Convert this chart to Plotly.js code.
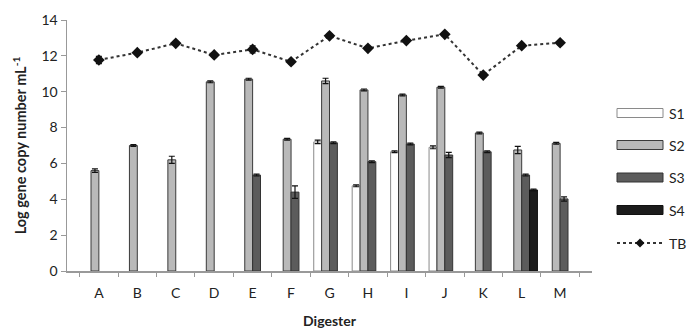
<!DOCTYPE html>
<html>
<head>
<meta charset="utf-8">
<script src="https://cdn.plot.ly/plotly-3.0.1.min.js"></script>
<style>html,body{margin:0;padding:0;background:#fff;}#chart{width:687px;height:329px;}</style>
</head>
<body>
<div id="chart"></div>
<script>
const digesters = ["A","B","C","D","E","F","G","H","I","J","K","L","M"];
const s1 = [null,null,null,null,null,null,7.2,4.75,6.65,6.9,null,null,null];
const s1Err = [0,0,0,0,0,0,0.1,0.05,0.05,0.08,0,0,0];
const s2 = [5.6,7.0,6.2,10.55,10.7,7.35,10.6,10.1,9.82,10.25,7.7,6.75,7.12];
const s2Err = [0.1,0.05,0.2,0.05,0.05,0.05,0.15,0.05,0.05,0.05,0.05,0.2,0.05];
const s3 = [null,null,null,null,5.35,4.4,7.15,6.1,7.08,6.47,6.65,5.35,4.02];
const s3Err = [0,0,0,0,0.05,0.35,0.05,0.05,0.05,0.15,0.05,0.05,0.12];
const s4 = [null,null,null,null,null,null,null,null,null,null,null,4.52,null];
const s4Err = [0,0,0,0,0,0,0,0,0,0,0,0.05,0];
const tb = [11.77,12.18,12.7,12.05,12.36,11.67,13.12,12.42,12.85,13.2,10.93,12.57,12.73];
const tbErr = [0.2,0.1,0.1,0.1,0.2,0.1,0.1,0.1,0.1,0.1,0.1,0.1,0.1];
const seriesNames = ["S1","S2","S3","S4","TB"];

const fills = ["#ffffff","#b9b9b9","#5c5c5c","#1c1c1c"];
const edges = ["#8a8a8a","#3a3a3a","#333333","#111111"];

const errStyle = (arr) => ({type:"data", array:arr, visible:true, color:"#111", thickness:1.2, width:3});
function bar(i, y, err){
  return {type:"bar", name:seriesNames[i], x:digesters, y:y, error_y:errStyle(err),
    marker:{color:fills[i], line:{color:edges[i], width:1}}, showlegend:false};
}
const data = [
  bar(0, s1, s1Err),
  bar(1, s2, s2Err),
  bar(2, s3, s3Err),
  bar(3, s4, s4Err),
  {type:"scatter", mode:"lines+markers", name:"TB", x:digesters, y:tb, error_y:errStyle(tbErr),
   line:{color:"#333", width:2, dash:"dot"}, marker:{symbol:"diamond", size:9, color:"#111"}, showlegend:false}
];

// custom legend (wide swatches like the original)
const W = 687, H = 329, L = 67, R = 95, T = 20, B = 58;
const pw = W - L - R, ph = H - T - B;
const px = (x) => (x - L) / pw;
const py = (y) => (H - B - y) / ph;
const legY = [113, 145, 177.5, 210, 243];
const shapes = [], annotations = [];
for (let i = 0; i < 4; i++) {
  shapes.push({type:"rect", xref:"paper", yref:"paper", x0:px(617), x1:px(663),
    y0:py(legY[i] + 4.5), y1:py(legY[i] - 4.5), fillcolor:fills[i], line:{color:edges[i], width:1}});
}
shapes.push({type:"line", xref:"paper", yref:"paper", x0:px(617), x1:px(663), y0:py(legY[4]), y1:py(legY[4]),
  line:{color:"#333", width:2, dash:"dot"}});
const dx = 4.5, cx = 640, cy = legY[4];
shapes.push({type:"path", xref:"paper", yref:"paper",
  path:`M ${px(cx-dx)} ${py(cy)} L ${px(cx)} ${py(cy-dx)} L ${px(cx+dx)} ${py(cy)} L ${px(cx)} ${py(cy+dx)} Z`,
  fillcolor:"#111", line:{color:"#111", width:0}});
for (let i = 0; i < 5; i++) {
  annotations.push({xref:"paper", yref:"paper", x:px(667), y:py(legY[i]), xanchor:"left", yanchor:"middle",
    text:seriesNames[i], showarrow:false, font:{size:14, color:"#222"}});
}

const fontFam = "Lato, 'Open Sans', sans-serif";
const layout = {
  width:W, height:H,
  margin:{l:L, r:R, t:T, b:B},
  paper_bgcolor:"#fff", plot_bgcolor:"#fff",
  barmode:"group", bargap:0.18, bargroupgap:0,
  font:{family:fontFam, color:"#222", size:13},
  showlegend:false,
  shapes:shapes, annotations:annotations,
  xaxis:{type:"category", tickson:"boundaries", ticks:"outside", ticklen:4, tickcolor:"#999",
    showline:true, linecolor:"#999", linewidth:1.5, showgrid:false, ticklabelstandoff:9,
    tickfont:{size:14, color:"#222"},
    title:{text:"<b>Digester</b>", font:{size:14, color:"#222"}, standoff:17}},
  yaxis:{range:[0,14], dtick:2, ticks:"outside", ticklen:5, tickcolor:"#999",
    showline:true, linecolor:"#999", linewidth:1.5, showgrid:false, zeroline:false,
    tickfont:{size:14, color:"#222"},
    title:{text:"<b>Log gene copy number mL<sup>-1</sup></b>", font:{size:14.5, color:"#222"}, standoff:11}}
};
Plotly.newPlot("chart", data, layout, {displayModeBar:false, staticPlot:true});
</script>
</body>
</html>
